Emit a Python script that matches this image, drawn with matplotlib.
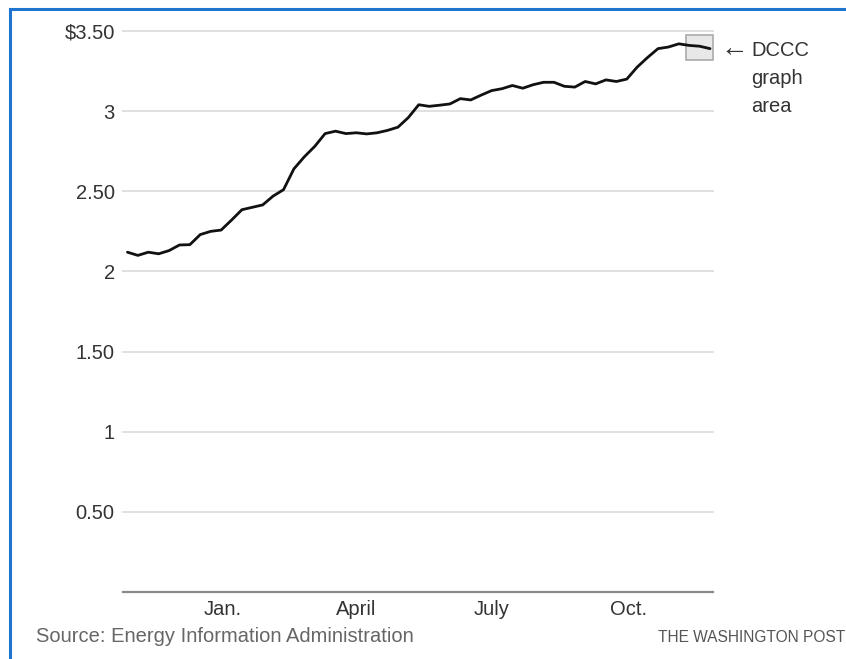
import matplotlib
matplotlib.use("Agg")
import matplotlib.pyplot as plt
import matplotlib.dates as mdates
from matplotlib.patches import Rectangle
from matplotlib.lines import Line2D
import pandas as pd

plt.rcParams['font.family'] = ['Liberation Sans', 'DejaVu Sans']

# Weekly average gasoline price ($/gallon)
start_date = "2020-10-29"
prices = [2.12, 2.10, 2.12, 2.11, 2.13, 2.165, 2.167, 2.23, 2.25, 2.258,
          2.32, 2.385, 2.40, 2.415, 2.47, 2.51, 2.64, 2.715, 2.78, 2.86,
          2.875, 2.86, 2.865, 2.858, 2.865, 2.88, 2.90, 2.96, 3.04, 3.03,
          3.037, 3.045, 3.078, 3.07, 3.10, 3.128, 3.14, 3.16, 3.143, 3.165,
          3.18, 3.18, 3.155, 3.15, 3.185, 3.17, 3.195, 3.185, 3.20, 3.275,
          3.335, 3.39, 3.40, 3.42, 3.41, 3.405, 3.39]
dates = pd.date_range(start_date, periods=len(prices), freq="7D")

y_ticks = [0.5, 1, 1.5, 2, 2.5, 3, 3.5]
y_labels = ["0.50", "1", "1.50", "2", "2.50", "3", "$3.50"]
x_tick_dates = ["2021-01-01", "2021-04-01", "2021-07-01", "2021-10-01"]
x_tick_labels = ["Jan.", "April", "July", "Oct."]

x_start = "2020-10-26"
x_end = "2021-11-27"
box_x0 = "2021-11-09"
box_y = (3.32, 3.475)

fig = plt.figure(figsize=(8.46, 6.59), dpi=100)
ax = fig.add_axes([123/846, 67/659, (713-123)/846, (592-31)/659])

ax.set_xlim(pd.Timestamp(x_start), pd.Timestamp(x_end))
ax.set_ylim(0, 3.5)

for yv in y_ticks:
    ax.axhline(yv, color="#dddddd", lw=1.3, zorder=1, clip_on=False)
ax.axhline(0, color="#8a8a8a", lw=1.6, zorder=2, clip_on=False)

# DCCC graph-area box
bx0 = mdates.date2num(pd.Timestamp(box_x0))
bx1 = mdates.date2num(pd.Timestamp(x_end))
ax.add_patch(Rectangle((bx0, box_y[0]), bx1 - bx0, box_y[1] - box_y[0],
                       facecolor="#e8e8e8", edgecolor="#aaaaaa", lw=1.2,
                       zorder=3, clip_on=False))

ax.plot(dates, prices, color="#111111", lw=2.0, zorder=4,
        solid_joinstyle="round", solid_capstyle="round")

for s in ax.spines.values():
    s.set_visible(False)

ax.set_yticks(y_ticks)
ax.set_yticklabels(y_labels)
ax.set_xticks([pd.Timestamp(d) for d in x_tick_dates])
ax.set_xticklabels(x_tick_labels)
ax.tick_params(axis="both", length=0, labelsize=14.5, labelcolor="#333333")
ax.tick_params(axis="y", pad=6)
ax.tick_params(axis="x", pad=6)

# annotation text
fig.text(720/846, 1 - 49/659, "\u2190", fontsize=20, color="#333333",
         va="center", ha="left", family=["Liberation Sans", "DejaVu Sans"])
fig.text(751/846, 1 - 41/659, "DCCC\ngraph\narea", fontsize=14.5, color="#333333",
         va="top", ha="left", linespacing=1.6)

fig.text(36/846, 1 - 637/659, "Source: Energy Information Administration",
         fontsize=14.5, color="#666666", va="center", ha="left")
fig.text(845/846, 1 - 638/659, "THE WASHINGTON POST",
         fontsize=11.2, color="#555555", va="center", ha="right")

# blue frame (left and top edges)
fig.add_artist(Line2D([9.5/846, 9.5/846], [0, 1 - 8.5/659], color="#1f74cf",
                      lw=2.2, transform=fig.transFigure))
fig.add_artist(Line2D([9.5/846, 1], [1 - 8.5/659, 1 - 8.5/659], color="#1f74cf",
                      lw=2.2, transform=fig.transFigure))

fig.savefig("out.png", dpi=100)
